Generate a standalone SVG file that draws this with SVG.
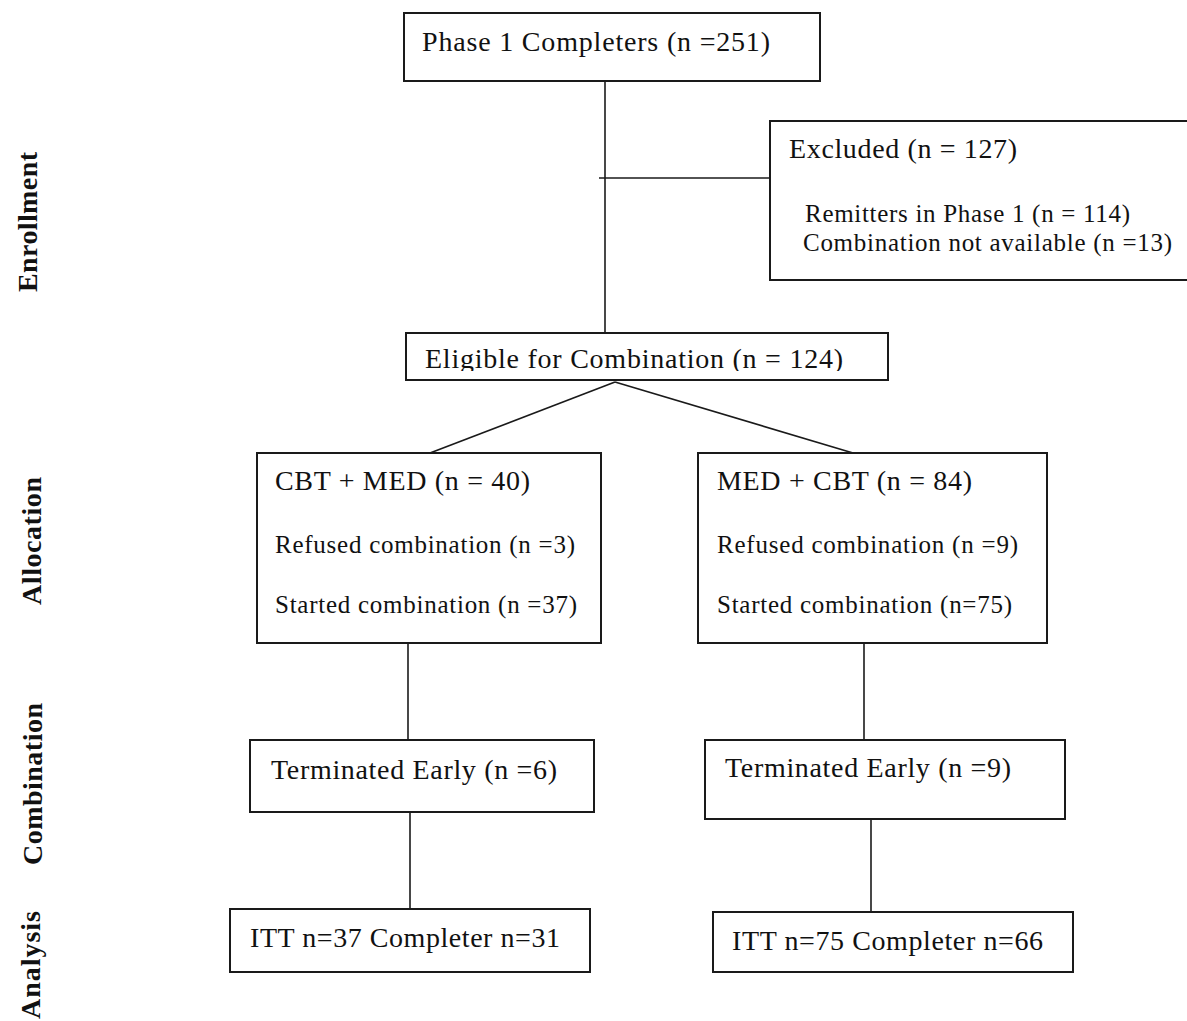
<svg xmlns="http://www.w3.org/2000/svg" width="1187" height="1021" viewBox="0 0 1187 1021">
  <style>
    .box { fill: #ffffff; stroke: #1a1a1a; stroke-width: 2; }
    .conn { fill: none; stroke: #1a1a1a; stroke-width: 1.6; }
    .t { font-family: "Liberation Serif", "Times New Roman", serif; fill: #111111; }
    .big { font-size: 28px; }
    .small { font-size: 25px; }
    .side { font-family: "Liberation Serif", "Times New Roman", serif; font-weight: bold; font-size: 28px; fill: #111111; text-anchor: middle; }
  </style>
  <defs>
    <clipPath id="clipElig">
      <rect x="406" y="333" width="482" height="38"/>
    </clipPath>
  </defs>
  <rect x="0" y="0" width="1187" height="1021" fill="#ffffff"/>

  <g id="side-labels">
    <text class="side" transform="translate(37,222) rotate(-90)" textLength="140">Enrollment</text>
    <text class="side" transform="translate(41,541) rotate(-90)" textLength="128">Allocation</text>
    <text class="side" transform="translate(42,784) rotate(-90)" textLength="162">Combination</text>
    <text class="side" transform="translate(40,965) rotate(-90)" textLength="108">Analysis</text>
  </g>

  <g id="connectors">
    <line class="conn" x1="605" y1="81" x2="605" y2="337"/>
    <line class="conn" x1="599" y1="178" x2="770" y2="178"/>
    <line class="conn" x1="615" y1="382" x2="430" y2="453"/>
    <line class="conn" x1="615" y1="382" x2="853" y2="453"/>
    <line class="conn" x1="408" y1="644" x2="408" y2="740"/>
    <line class="conn" x1="864" y1="644" x2="864" y2="740"/>
    <line class="conn" x1="410" y1="812" x2="410" y2="908"/>
    <line class="conn" x1="871" y1="819" x2="871" y2="912"/>
  </g>

  <g id="phase1">
    <rect class="box" x="404" y="13" width="416" height="68"/>
    <text class="t big" x="422" y="51" textLength="348">Phase 1 Completers (n =251)</text>
  </g>

  <g id="excluded">
    <rect class="box" x="770" y="121" width="440" height="159"/>
    <text class="t big" x="789" y="158" textLength="228">Excluded (n = 127)</text>
    <text class="t small" x="805" y="222" textLength="325">Remitters in Phase 1 (n = 114)</text>
    <text class="t small" x="803" y="251" textLength="369">Combination not available (n =13)</text>
  </g>

  <g id="eligible">
    <rect class="box" x="406" y="333" width="482" height="47"/>
    <text class="t big" x="425" y="368" textLength="418" clip-path="url(#clipElig)">Eligible for Combination  (n = 124)</text>
  </g>

  <g id="cbt-med">
    <rect class="box" x="257" y="453" width="344" height="190"/>
    <text class="t big" x="275" y="490" textLength="255">CBT + MED (n = 40)</text>
    <text class="t small" x="275" y="553" textLength="300">Refused combination (n =3)</text>
    <text class="t small" x="275" y="613" textLength="302">Started combination (n =37)</text>
  </g>

  <g id="med-cbt">
    <rect class="box" x="698" y="453" width="349" height="190"/>
    <text class="t big" x="717" y="490" textLength="255">MED + CBT (n = 84)</text>
    <text class="t small" x="717" y="553" textLength="301">Refused combination (n =9)</text>
    <text class="t small" x="717" y="613" textLength="295">Started combination (n=75)</text>
  </g>

  <g id="term-left">
    <rect class="box" x="250" y="740" width="344" height="72"/>
    <text class="t big" x="271" y="779" textLength="286">Terminated Early (n =6)</text>
  </g>

  <g id="term-right">
    <rect class="box" x="705" y="740" width="360" height="79"/>
    <text class="t big" x="725" y="777" textLength="286">Terminated Early (n =9)</text>
  </g>

  <g id="itt-left">
    <rect class="box" x="230" y="909" width="360" height="63"/>
    <text class="t big" x="250" y="947" textLength="310">ITT n=37 Completer n=31</text>
  </g>

  <g id="itt-right">
    <rect class="box" x="713" y="912" width="360" height="60"/>
    <text class="t big" x="732" y="950" textLength="311">ITT n=75 Completer n=66</text>
  </g>
</svg>
